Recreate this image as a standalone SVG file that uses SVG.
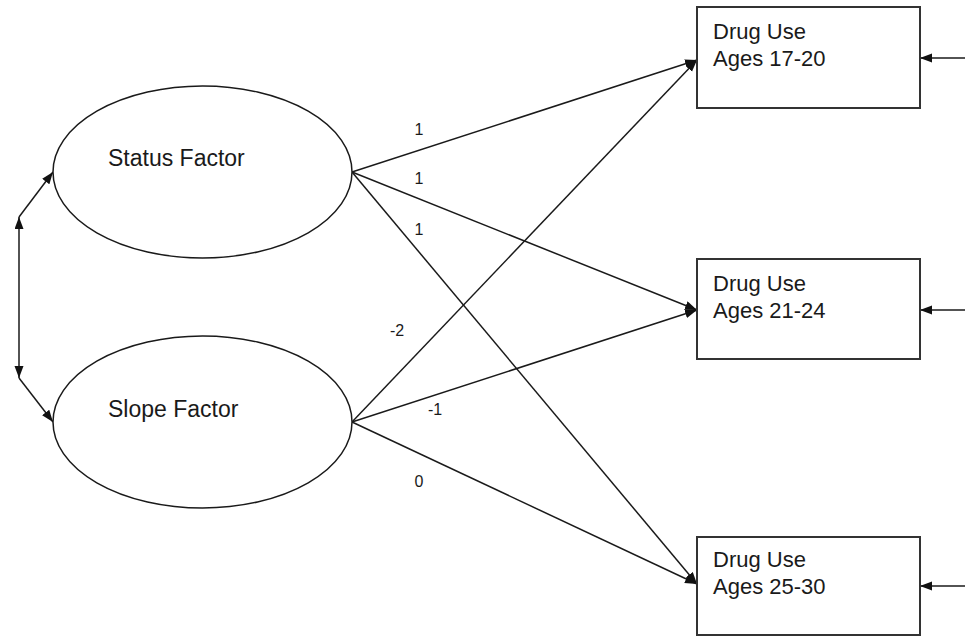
<svg xmlns="http://www.w3.org/2000/svg" width="965" height="636" viewBox="0 0 965 636">
<defs>
<marker id="ah" markerUnits="userSpaceOnUse" markerWidth="13" markerHeight="10" refX="12" refY="4.5" orient="auto-start-reverse">
<path d="M0,0 L12,4.5 L0,9 z" fill="#111"/>
</marker>
<style>
.ln{stroke:#1a1a1a;stroke-width:1.5;fill:none}
.box{fill:#fff;stroke:#333;stroke-width:2}
.ell{fill:#fff;stroke:#1a1a1a;stroke-width:1.5}
.t{font-family:"Liberation Sans",Arial,sans-serif;fill:#1a1a1a}
.lat{font-size:23px}
.obs{font-size:22px}
.lab{font-size:16px;text-anchor:middle}
</style>
</defs>
<rect width="965" height="636" fill="#fff"/>
<g id="connectors">
<line class="ln" x1="352" y1="172" x2="697" y2="60" marker-end="url(#ah)"/>
<line class="ln" x1="352" y1="172" x2="697" y2="310" marker-end="url(#ah)"/>
<line class="ln" x1="352" y1="172" x2="697" y2="584" marker-end="url(#ah)"/>
<line class="ln" x1="352" y1="422" x2="697" y2="60" marker-end="url(#ah)"/>
<line class="ln" x1="352" y1="422" x2="697" y2="310" marker-end="url(#ah)"/>
<line class="ln" x1="352" y1="422" x2="697" y2="584" marker-end="url(#ah)"/>
<line class="ln" x1="965" y1="58" x2="920" y2="58" marker-end="url(#ah)"/>
<line class="ln" x1="965" y1="310" x2="920" y2="310" marker-end="url(#ah)"/>
<line class="ln" x1="965" y1="586" x2="920" y2="586" marker-end="url(#ah)"/>
<line class="ln" x1="19" y1="217" x2="19" y2="378" marker-start="url(#ah)" marker-end="url(#ah)"/>
<line class="ln" x1="19" y1="217" x2="53" y2="172" marker-end="url(#ah)"/>
<line class="ln" x1="19" y1="378" x2="53" y2="422" marker-end="url(#ah)"/>
<text class="t lab" x="419" y="135">1</text>
<text class="t lab" x="419" y="184">1</text>
<text class="t lab" x="419" y="235">1</text>
<text class="t lab" x="397" y="336">-2</text>
<text class="t lab" x="435" y="415">-1</text>
<text class="t lab" x="419" y="487">0</text>
</g>
<g id="status">
<ellipse class="ell" cx="202.5" cy="172" rx="149.5" ry="86"/>
<text class="t lat" x="108" y="166">Status Factor</text>
</g>
<g id="slope">
<ellipse class="ell" cx="202.5" cy="422" rx="149.5" ry="86"/>
<text class="t lat" x="108" y="417">Slope Factor</text>
</g>
<g id="drug1720">
<rect class="box" x="697" y="7" width="223" height="101"/>
<text class="t obs" x="713" y="39">Drug Use</text>
<text class="t obs" x="713" y="66">Ages 17-20</text>
</g>
<g id="drug2124">
<rect class="box" x="697" y="259" width="223" height="100"/>
<text class="t obs" x="713" y="291">Drug Use</text>
<text class="t obs" x="713" y="318">Ages 21-24</text>
</g>
<g id="drug2530">
<rect class="box" x="697" y="537" width="223" height="98"/>
<text class="t obs" x="713" y="567">Drug Use</text>
<text class="t obs" x="713" y="594">Ages 25-30</text>
</g>
</svg>
